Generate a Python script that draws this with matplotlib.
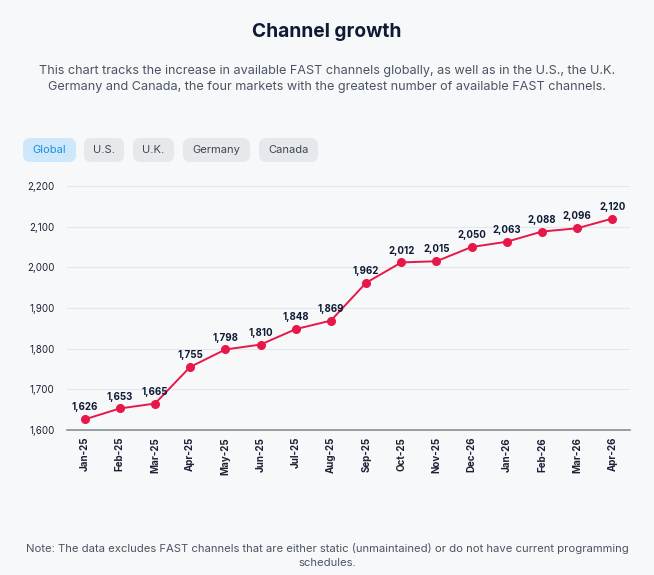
import matplotlib.pyplot as plt
from matplotlib.patches import FancyBboxPatch

plt.rcParams['font.family'] = ['Inter', 'DejaVu Sans']

months = ['Jan-25', 'Feb-25', 'Mar-25', 'Apr-25', 'May-25', 'Jun-25', 'Jul-25', 'Aug-25',
          'Sep-25', 'Oct-25', 'Nov-25', 'Dec-26', 'Jan-26', 'Feb-26', 'Mar-26', 'Apr-26']
channels = [1626, 1653, 1665, 1755, 1798, 1810, 1848, 1869,
            1962, 2012, 2015, 2050, 2063, 2088, 2096, 2120]
tabs = ['Global', 'U.S.', 'U.K.', 'Germany', 'Canada']
yticks = [1600, 1700, 1800, 1900, 2000, 2100, 2200]

bg = '#f7f8fa'
W, H = 654, 575
fig = plt.figure(figsize=(W / 100, H / 100), dpi=100, facecolor=bg)

fig.text(0.5, 1 - 32 / H, 'Channel growth', ha='center', va='center',
         fontsize=13.8, fontweight='bold', color='#0f1b33')
fig.text(0.5, 1 - 79 / H,
         'This chart tracks the increase in available FAST channels globally, as well as in the U.S., the U.K.\n'
         'Germany and Canada, the four markets with the greatest number of available FAST channels.',
         ha='center', va='center', fontsize=9.1, color='#4a5563', linespacing=1.55)

# tab buttons
tab_x = [(23, 76), (84, 124), (133, 174), (183, 250), (259, 318)]
for i, (name, (x0, x1)) in enumerate(zip(tabs, tab_x)):
    active = i == 0
    box = FancyBboxPatch((x0 / W, 1 - 162 / H), (x1 - x0) / W, 24 / H,
                         boxstyle='round,pad=0,rounding_size=0.012',
                         transform=fig.transFigure, linewidth=0,
                         facecolor='#cfe7fb' if active else '#e6e8eb')
    fig.patches.append(box)
    fig.text((x0 + x1) / 2 / W, 1 - 150 / H, name, ha='center', va='center',
             fontsize=8, color='#1c8fe0' if active else '#3b4858')

ax = fig.add_axes([67 / W, 1 - 430 / H, (630 - 67) / W, (430 - 186) / H])
ax.set_facecolor(bg)
x = list(range(len(months)))
ax.plot(x, channels, color='#e8174a', linewidth=1.4, marker='o', markersize=5.5, zorder=3)
for xi, v in zip(x, channels):
    ax.annotate(f'{v:,}', (xi, v), xytext=(0, 5), textcoords='offset points',
                ha='center', va='bottom', fontsize=7, fontweight='bold', color='#0f1b33')

ax.set_xlim(-0.5, len(months) - 0.5)
ax.set_ylim(1600, 2200)
ax.set_yticks(yticks)
ax.set_yticklabels([f'{t:,}' for t in yticks])
ax.set_xticks(x)
ax.set_xticklabels(months, rotation=90, fontweight='bold')
ax.tick_params(axis='y', length=0, pad=9, labelsize=7, labelcolor='#1a2333')
ax.tick_params(axis='x', length=0, pad=5, labelsize=7, labelcolor='#1a2333')
ax.grid(axis='y', color='#e4e6ea', linewidth=0.8)
ax.set_axisbelow(True)
for s in ['top', 'right', 'left']:
    ax.spines[s].set_visible(False)
ax.spines['bottom'].set_color('#8a8f96')
ax.spines['bottom'].set_linewidth(1.2)

fig.text(0.5, 1 - 555 / H,
         'Note: The data excludes FAST channels that are either static (unmaintained) or do not have current programming\nschedules.',
         ha='center', va='center', fontsize=8.1, color='#4a5563', linespacing=1.5)

fig.savefig('out.png', dpi=100, facecolor=bg)
